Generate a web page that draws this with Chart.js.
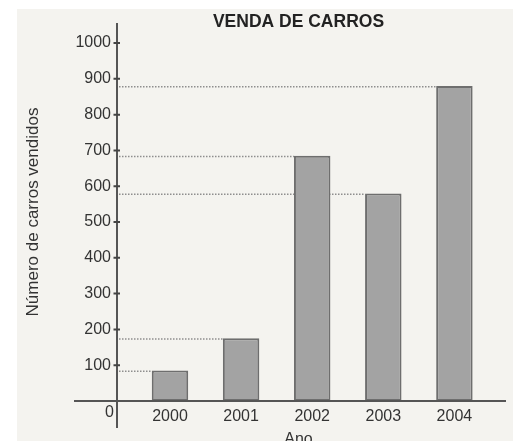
<!DOCTYPE html>
<html><head><meta charset="utf-8">
<script src="https://cdn.jsdelivr.net/npm/chart.js@4.4.1/dist/chart.umd.min.js"></script>
<style>html,body{margin:0;padding:0;overflow:hidden;background:#fff}canvas{display:block}</style>
</head><body>
<canvas id="c" width="513" height="448" style="width:513px;height:448px"></canvas>
<script>
const chartTitle = 'VENDA DE CARROS';
const xTitle = 'Ano';
const yTitle = 'Número de carros vendidos';
const years = ['2000', '2001', '2002', '2003', '2004'];
const sales = [85, 175, 685, 580, 880];
const originLabel = '0';

const FONT = "'Liberation Sans', Arial, Helvetica, sans-serif";

const decor = {
  id: 'decor',
  beforeDraw(chart) {
    const {ctx, width, height} = chart;
    ctx.save();
    ctx.fillStyle = '#ffffff';
    ctx.fillRect(0, 0, width, height);
    ctx.fillStyle = '#f4f3ef';
    ctx.fillRect(17, 9, width - 17, height - 9);
    ctx.restore();
  },
  beforeDatasetsDraw(chart) {
    const {ctx, chartArea} = chart;
    const meta = chart.getDatasetMeta(0);
    ctx.save();
    ctx.strokeStyle = '#8e8e8e';
    ctx.lineWidth = 1.5;
    ctx.setLineDash([1.5, 1.5]);
    meta.data.forEach((bar) => {
      const p = bar.getProps(['x', 'y', 'width'], true);
      ctx.beginPath();
      ctx.moveTo(chartArea.left + 2, p.y + 0.75);
      ctx.lineTo(p.x - p.width / 2, p.y + 0.75);
      ctx.stroke();
    });
    ctx.restore();
  },
  afterDatasetsDraw(chart) {
    const {ctx, chartArea} = chart;
    const ys = chart.scales.y;
    const y0 = ys.getPixelForValue(0);
    ctx.save();
    ctx.strokeStyle = '#555555';
    ctx.lineWidth = 2;
    ctx.beginPath();
    ctx.moveTo(chartArea.left - 43, y0);
    ctx.lineTo(chartArea.right + 26, y0);
    ctx.moveTo(chartArea.left, chartArea.top);
    ctx.lineTo(chartArea.left, y0 + 27);
    ctx.stroke();
    ctx.strokeStyle = '#444444';
    ctx.beginPath();
    ys.ticks.forEach((t) => {
      if (t.value <= 0) return;
      const py = ys.getPixelForValue(t.value);
      ctx.moveTo(chartArea.left - 3.5, py);
      ctx.lineTo(chartArea.left + 3, py);
    });
    ctx.stroke();
    ctx.fillStyle = '#333333';
    ctx.font = '16px ' + FONT;
    ctx.textAlign = 'right';
    ctx.textBaseline = 'middle';
    ctx.fillText(originLabel, chartArea.left - 3, y0 + 12);
    ctx.restore();
  }
};

new Chart(document.getElementById('c'), {
  type: 'bar',
  data: {
    datasets: [{
      data: sales.map((v, i) => ({x: i, y: v})),
      backgroundColor: '#a3a3a3',
      borderColor: '#6e6e6e',
      borderWidth: 2,
      borderSkipped: false,
      categoryPercentage: 1,
      barPercentage: 0.513,
      clip: false
    }]
  },
  options: {
    responsive: false,
    animation: false,
    layout: {padding: {left: 0, right: 33, top: 0, bottom: 0}},
    plugins: {
      legend: {display: false},
      tooltip: {enabled: false},
      title: {
        display: true,
        text: chartTitle,
        fullSize: false,
        color: '#222222',
        font: {family: FONT, size: 17.5, weight: 'bold', lineHeight: 1.2},
        padding: {top: 12, bottom: -10}
      }
    },
    scales: {
      x: {
        type: 'linear',
        offset: false,
        min: -0.7454,
        max: 4.3601,
        grid: {display: false, drawTicks: false},
        border: {display: false},
        afterBuildTicks: (s) => { s.ticks = years.map((_, i) => ({value: i})); },
        afterFit: (s) => { s.height = 47; },
        ticks: {
          autoSkip: false,
          maxRotation: 0,
          padding: 6,
          color: '#333333',
          font: {family: FONT, size: 16},
          callback: (v) => years[v]
        },
        title: {
          display: true,
          text: xTitle,
          color: '#333333',
          font: {family: FONT, size: 16},
          padding: {top: 0, bottom: -1.5}
        }
      },
      y: {
        min: 0,
        max: 1056,
        grid: {display: false, drawTicks: false},
        border: {display: false},
        afterFit: (s) => { s.width = 117; },
        ticks: {
          stepSize: 100,
          includeBounds: false,
          padding: 6,
          color: '#333333',
          font: {family: FONT, size: 16},
          callback: (v) => (v === 0 ? '' : String(v))
        },
        title: {
          display: true,
          text: yTitle,
          color: '#333333',
          font: {family: FONT, size: 17},
          padding: {top: 23.3, bottom: 0}
        }
      }
    }
  },
  plugins: [decor]
});
</script>
</body></html>
